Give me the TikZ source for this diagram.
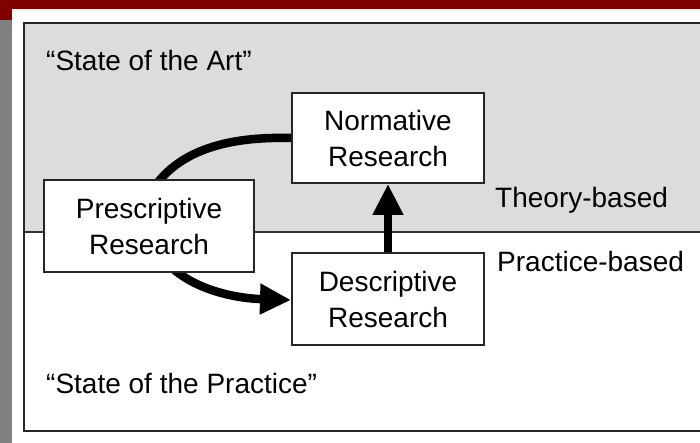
\documentclass[tikz,border=0pt]{standalone}
\usepackage{fontspec}
\setmainfont{Liberation Sans}
\usetikzlibrary{arrows.meta,calc}
\pgfdeclarelayer{back}
\pgfdeclarelayer{mid}
\pgfsetlayers{back,mid,main}
\definecolor{darkred}{HTML}{800000}
\definecolor{stripgray}{HTML}{808080}
\definecolor{panelgray}{HTML}{DCDCDC}
\tikzset{
  rbox/.style={draw=black!85, line width=2pt, fill=white, align=center,
    inner sep=0pt, font=\fontsize{28}{36}\selectfont},
  lbl/.style={anchor=west, inner sep=0pt, font=\fontsize{28}{34}\selectfont},
  flow/.style={line width=8.5pt, black},
  bigtip/.style={-{Triangle[length=31pt,width=29pt]}}
}
\begin{document}
\begin{tikzpicture}[x=1pt,y=-1pt]
\path[use as bounding box, clip] (0,0) rectangle (700,443);
\begin{pgfonlayer}{back}
\fill[white] (0,0) rectangle (700,443);
\fill[darkred] (0,0) rectangle (700,9);
\fill[darkred] (0,0) rectangle (12,20);
\fill[stripgray] (0,20) rectangle (12,443);
\fill[panelgray] (24,23) rectangle (710,232);
\draw[line width=1.6pt, black!80] (24,232) -- (710,232);
\draw[line width=2.2pt, black!85] (24,23) rectangle (712,431);
\end{pgfonlayer}

\node[rbox, minimum width=192pt, minimum height=90pt] (norm) at (388,138) {Normative\\Research};
\node[rbox, minimum width=210pt, minimum height=92pt] (presc) at (149,226) {Prescriptive\\Research};
\node[rbox, minimum width=192pt, minimum height=92pt] (desc) at (388,299) {Descriptive\\Research};

\node[lbl] (art) at (46,60) {“State of the Art”};
\node[lbl] (theory) at (495,200) {Theory-based};
\node[lbl] (practice) at (497,261) {Practice-based};
\node[lbl] (prac) at (46,383) {“State of the Practice”};

\begin{pgfonlayer}{mid}
\draw[flow] (norm.west |- 0,138) .. controls (212,136) and (160,158) .. (140,215);
\draw[flow, bigtip] (presc.center) .. controls (158,282) and (225,298) .. (desc.west |- 0,300);
\end{pgfonlayer}
\draw[flow, bigtip] (desc.north) -- (norm.south);
\end{tikzpicture}
\end{document}
